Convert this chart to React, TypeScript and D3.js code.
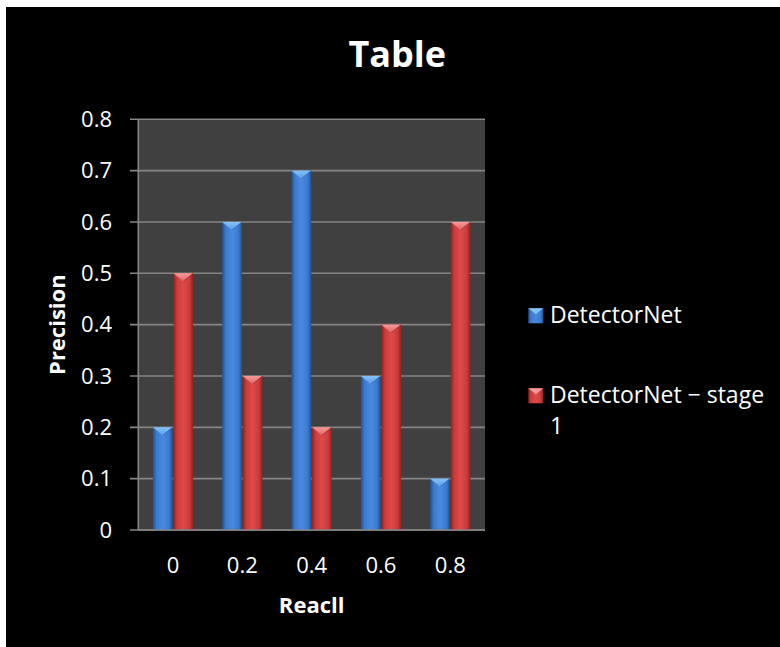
import React from "react";
import * as d3 from "d3";

const categories = ["0", "0.2", "0.4", "0.6", "0.8"];
const seriesNames = ["DetectorNet", "DetectorNet − stage 1"];
const detectorNet = [0.2, 0.6, 0.7, 0.3, 0.1];
const detectorNetStage1 = [0.5, 0.3, 0.2, 0.4, 0.6];
const yTicks = [0, 0.1, 0.2, 0.3, 0.4, 0.5, 0.6, 0.7, 0.8];
const yTickLabels = ["0", "0.1", "0.2", "0.3", "0.4", "0.5", "0.6", "0.7", "0.8"];

const W = 780;
const H = 647;
const FONT = "'Open Sans', 'Noto Sans', sans-serif";

const plot = { left: 138.3, right: 485, top: 119.3, bottom: 530 };

const palettes = [
  { dark: "#23528f", mid: "#3a7ad0", light: "#4a8ade", cap: "#86c2f6", capEdge: "#5c9ee6" },
  { dark: "#8e2222", mid: "#cc3a3a", light: "#dc4a4a", cap: "#f49a9a", capEdge: "#e06464" },
];

export default function App() {
  const x0 = d3.scaleBand<string>().domain(categories).range([plot.left, plot.right]).padding(0);
  const bw = x0.bandwidth();
  const x1 = d3
    .scaleBand<string>()
    .domain(seriesNames)
    .range([bw * 0.21, bw * 0.79])
    .paddingInner(0.04);
  const y = d3.scaleLinear().domain([0, 0.8]).range([plot.bottom, plot.top]);

  const seriesData = [detectorNet, detectorNetStage1];

  const barW = x1.bandwidth();

  const renderBar = (xPos: number, val: number, si: number, key: string) => {
    const top = y(val);
    const h = plot.bottom - top;
    const capH = Math.min(8, h);
    const p = palettes[si];
    const pts = `${xPos},${top} ${xPos + barW},${top} ${xPos + barW / 2},${top + capH}`;
    return (
      <g key={key}>
        <rect x={xPos} y={top} width={barW} height={h} fill={`url(#grad${si})`} />
        <polygon points={pts} fill={`url(#cap${si})`} />
        <line x1={xPos} y1={top} x2={xPos + barW / 2} y2={top + capH} stroke={p.capEdge} strokeWidth={0.6} />
        <line x1={xPos + barW} y1={top} x2={xPos + barW / 2} y2={top + capH} stroke={p.dark} strokeWidth={0.6} />
      </g>
    );
  };

  const legendItems = [
    { si: 0, lines: ["DetectorNet"], y: 315.8 },
    { si: 1, lines: ["DetectorNet − stage", "1"], y: 395.8 },
  ];

  return (
    <svg
      width={W}
      height={H}
      style={{ position: "absolute", left: 0, top: 0, display: "block" }}
      fontFamily={FONT}
    >
      <defs>
        {palettes.map((p, i) => (
          <linearGradient key={`g${i}`} id={`grad${i}`} x1="0" x2="1" y1="0" y2="0">
            <stop offset="0" stopColor={p.dark} />
            <stop offset="0.18" stopColor={p.mid} />
            <stop offset="0.5" stopColor={p.light} />
            <stop offset="0.82" stopColor={p.mid} />
            <stop offset="1" stopColor={p.dark} />
          </linearGradient>
        ))}
        {palettes.map((p, i) => (
          <linearGradient key={`c${i}`} id={`cap${i}`} x1="0" x2="0" y1="0" y2="1">
            <stop offset="0" stopColor={p.cap} />
            <stop offset="1" stopColor={p.capEdge} />
          </linearGradient>
        ))}
      </defs>

      <rect x={0} y={0} width={W} height={H} fill="#ffffff" />
      <rect x={6} y={7} width={W - 6} height={H - 7} fill="#000000" />

      {/* title */}
      <text x={397.3} y={67.3} textAnchor="middle" fill="#ffffff" fontSize={36} fontWeight="bold">
        Table
      </text>

      {/* plot area */}
      <rect
        x={plot.left}
        y={plot.top}
        width={plot.right - plot.left}
        height={plot.bottom - plot.top}
        fill="#404040"
      />

      {/* gridlines and y ticks */}
      {yTicks.map((t, i) => (
        <g key={`yt${i}`}>
          <line x1={130} x2={plot.right} y1={y(t)} y2={y(t)} stroke="#858585" strokeWidth={1.6} />
          <text x={112} y={y(t) + 7.8} textAnchor="end" fill="#ffffff" fontSize={22}>
            {yTickLabels[i]}
          </text>
        </g>
      ))}

      {/* y axis line */}
      <line x1={plot.left} x2={plot.left} y1={plot.top} y2={plot.bottom} stroke="#858585" strokeWidth={1.6} />

      {/* bars */}
      {categories.map((c, ci) =>
        seriesNames.map((s, si) =>
          renderBar((x0(c) as number) + (x1(s) as number), seriesData[si][ci], si, `b${ci}-${si}`)
        )
      )}

      {/* x axis line */}
      <line x1={plot.left} x2={plot.right} y1={plot.bottom} y2={plot.bottom} stroke="#858585" strokeWidth={1.6} />

      {/* x tick labels */}
      {categories.map((c) => (
        <text
          key={`xl${c}`}
          x={(x0(c) as number) + bw / 2}
          y={573.3}
          textAnchor="middle"
          fill="#ffffff"
          fontSize={22}
        >
          {c}
        </text>
      ))}

      {/* axis titles */}
      <text
        x={(plot.left + plot.right) / 2}
        y={612.7}
        textAnchor="middle"
        fill="#ffffff"
        fontSize={22}
        fontWeight="bold"
      >
        Reacll
      </text>
      <text
        transform={`translate(64.5, ${(plot.top + plot.bottom) / 2}) rotate(-90)`}
        textAnchor="middle"
        fill="#ffffff"
        fontSize={22}
        fontWeight="bold"
      >
        Precision
      </text>

      {/* legend */}
      {legendItems.map((it) => {
        const p = palettes[it.si];
        const mx = 528.3;
        const my = it.y - 7.5;
        return (
          <g key={`lg${it.si}`}>
            <rect x={mx} y={my} width={15} height={15} fill={`url(#grad${it.si})`} />
            <polygon
              points={`${mx},${my} ${mx + 15},${my} ${mx + 7.5},${my + 6}`}
              fill={p.cap}
            />
            {it.lines.map((ln, li) => (
              <text key={li} x={550} y={it.y + 7 + li * 31} fill="#ffffff" fontSize={23}>
                {ln}
              </text>
            ))}
          </g>
        );
      })}
    </svg>
  );
}
